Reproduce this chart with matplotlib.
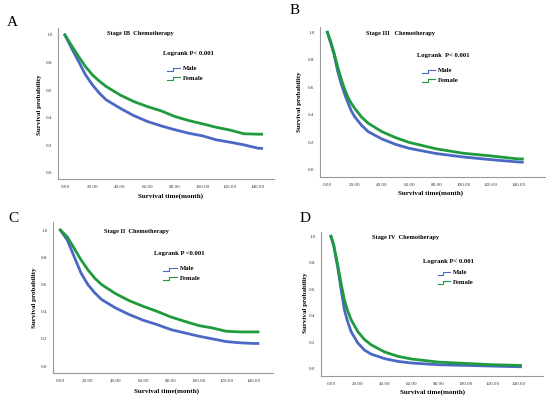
import matplotlib
matplotlib.use('Agg')
import matplotlib.pyplot as plt
from matplotlib.lines import Line2D

# Kaplan-Meier curves (months, survival probability)
a_time = [0, 5, 10, 15, 20, 25, 30, 40, 50, 60, 70, 80, 90, 100, 110, 120, 130, 140, 143]
a_male = [1.0, 0.90, 0.807, 0.710, 0.638, 0.578, 0.529, 0.469, 0.415, 0.372, 0.340, 0.312, 0.287, 0.268, 0.239, 0.222, 0.203, 0.179, 0.177]
a_female = [1.0, 0.92, 0.843, 0.770, 0.710, 0.665, 0.626, 0.565, 0.517, 0.480, 0.449, 0.408, 0.379, 0.355, 0.330, 0.310, 0.283, 0.280, 0.280]

b_time = [0, 2.5, 5, 7.5, 10, 12.5, 15, 17.5, 20, 25, 30, 40, 50, 60, 80, 100, 120, 140, 143]
b_male = [1.0, 0.92, 0.835, 0.72, 0.630, 0.555, 0.490, 0.430, 0.387, 0.325, 0.278, 0.225, 0.186, 0.157, 0.119, 0.094, 0.075, 0.058, 0.057]
b_female = [1.0, 0.93, 0.847, 0.75, 0.666, 0.590, 0.530, 0.485, 0.448, 0.385, 0.339, 0.278, 0.235, 0.200, 0.153, 0.121, 0.102, 0.080, 0.080]

c_time = [0, 5, 10, 15, 20, 25, 30, 40, 50, 60, 70, 80, 90, 100, 110, 120, 130, 140, 143]
c_male = [1.0, 0.927, 0.805, 0.683, 0.598, 0.537, 0.488, 0.427, 0.378, 0.337, 0.305, 0.268, 0.244, 0.220, 0.200, 0.180, 0.171, 0.166, 0.166]
c_female = [1.0, 0.950, 0.866, 0.780, 0.707, 0.645, 0.598, 0.532, 0.480, 0.439, 0.402, 0.361, 0.329, 0.298, 0.280, 0.256, 0.251, 0.251, 0.251]

d_time = [0, 2, 5, 8, 10, 12, 15, 20, 25, 30, 40, 50, 60, 80, 100, 120, 140, 141]
d_male = [1.0, 0.93, 0.766, 0.570, 0.446, 0.370, 0.280, 0.194, 0.140, 0.110, 0.076, 0.055, 0.043, 0.030, 0.025, 0.020, 0.015, 0.015]
d_female = [1.0, 0.937, 0.786, 0.620, 0.520, 0.450, 0.370, 0.280, 0.220, 0.180, 0.126, 0.093, 0.073, 0.050, 0.040, 0.030, 0.025, 0.025]

x_ticks = [0, 20, 40, 60, 80, 100, 120, 140]
y_ticks = [0.0, 0.2, 0.4, 0.6, 0.8, 1.0]

blue = '#4a68c4'
green = '#1f9a3c'
serif = 'Liberation Serif'

W, H = 550, 399
fig = plt.figure(figsize=(W / 100, H / 100), dpi=100)


def px(x, y):
    # pixel position -> figure fraction
    return x / W, 1 - y / H


def panel(box, xlim, ylim, t, male, female, letter, title, logrank, spots):
    l, t_, r, b = box
    ax = fig.add_axes([l / W, 1 - b / H, (r - l) / W, (b - t_) / H])
    ax.plot(t, male, color=blue, lw=2.0)
    ax.plot(t, female, color=green, lw=2.0)
    ax.set_xlim(*xlim)
    ax.set_ylim(*ylim)
    ax.set_xticks(x_ticks)
    ax.set_xticklabels([f'{v:.2f}' for v in x_ticks])
    ax.set_yticks(y_ticks)
    ax.set_yticklabels([f'{v:.1f}' for v in y_ticks])
    ax.tick_params(length=0, labelsize=3.6, pad=4, colors='#333333')
    for lab in ax.get_xticklabels() + ax.get_yticklabels():
        lab.set_family(serif)
    for s in ['top', 'right']:
        ax.spines[s].set_visible(False)
    for s in ['left', 'bottom']:
        ax.spines[s].set_color('#999999')
        ax.spines[s].set_linewidth(0.8)

    # texts placed in pixels
    lx, ly = spots['letter']
    fig.text(*px(lx, ly), letter, family=serif, fontsize=11, ha='center', va='center')
    tx, ty = spots['title']
    fig.text(*px(tx, ty), title, family=serif, fontsize=4.6, fontweight='bold', ha='center', va='center')
    gx, gy = spots['logrank']
    fig.text(*px(gx, gy), logrank, family=serif, fontsize=4.8, fontweight='bold', ha='left', va='center')
    yx, yy = spots['ylabel']
    fig.text(*px(yx, yy), 'Survival probability', family=serif, fontsize=5, fontweight='bold',
             rotation=90, ha='center', va='center')
    xx, xy = spots['xlabel']
    fig.text(*px(xx, xy), 'Survival time(month)', family=serif, fontsize=5, fontweight='bold',
             ha='center', va='center')

    # legend with step-shaped keys
    kx0, kx1, my, fy, textx = spots['legend']
    for yy_, col, name in [(my, blue, 'Male'), (fy, green, 'Female')]:
        xs = [kx0, kx0 + 0.45 * (kx1 - kx0), kx0 + 0.45 * (kx1 - kx0), kx1]
        ys = [yy_ + 1.5, yy_ + 1.5, yy_ - 1.5, yy_ - 1.5]
        fx = [v / W for v in xs]
        fy_ = [1 - v / H for v in ys]
        fig.add_artist(Line2D(fx, fy_, color=col, lw=0.8, transform=fig.transFigure))
        fig.text(*px(textx, yy_), name, family=serif, fontsize=4.8, fontweight='bold',
                 ha='left', va='center')
    return ax


panel((58, 28, 274, 179), (-5, 152), (-0.045, 1.05), a_time, a_male, a_female,
      'A', 'Stage IB  Chemotherapy', 'Logrank P< 0.001',
      {'letter': (12, 22), 'title': (140, 33), 'logrank': (163, 53),
       'ylabel': (40, 105), 'xlabel': (170, 196), 'legend': (167, 180, 69, 78, 183)})

panel((320, 27, 545, 177), (-5.4, 159.6), (-0.051, 1.038), b_time, b_male, b_female,
      'B', 'Stage III   Chemotherapy', 'Logrank  P< 0.001',
      {'letter': (295, 10), 'title': (401, 34), 'logrank': (417, 56),
       'ylabel': (300, 102), 'xlabel': (431, 193), 'legend': (422, 435, 71, 80, 438)})

panel((53, 222, 273, 373), (-5.3, 153.9), (-0.051, 1.059), c_time, c_male, c_female,
      'C', 'Stage II  Chemotherapy', 'Logrank P <0.001',
      {'letter': (13, 218), 'title': (137, 232), 'logrank': (154, 253),
       'ylabel': (35, 298), 'xlabel': (166, 391), 'legend': (163, 177, 269, 278, 180)})

panel((321, 232, 543, 376), (-7.4, 157.8), (-0.055, 1.032), d_time, d_male, d_female,
      'D', 'Stage IV  Chemotherapy', 'Logrank P< 0.001',
      {'letter': (305, 218), 'title': (406, 238), 'logrank': (423, 262),
       'ylabel': (305, 303), 'xlabel': (433, 392), 'legend': (438, 450, 273, 282, 453)})

fig.savefig('out.png', dpi=100)
